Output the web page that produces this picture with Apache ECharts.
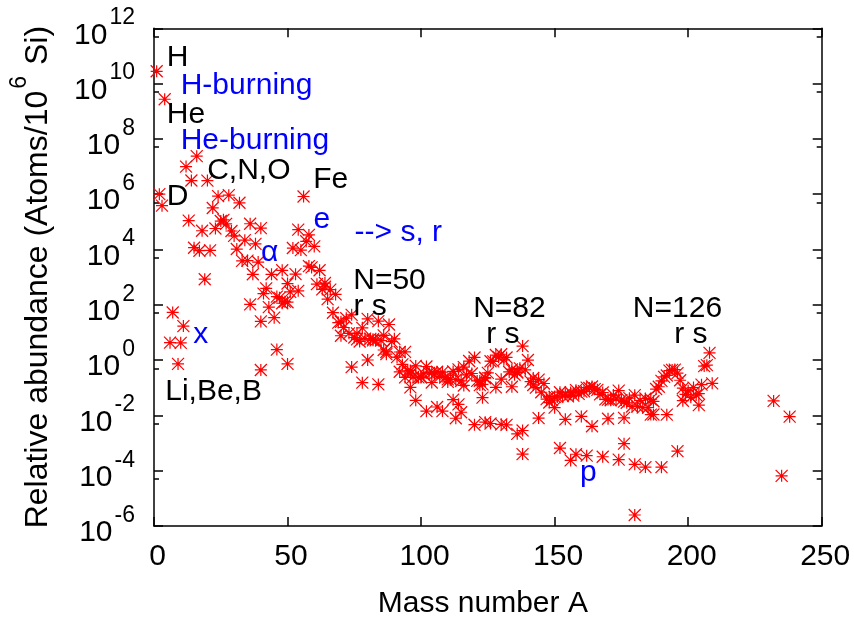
<!DOCTYPE html>
<html><head><meta charset="utf-8">
<script src="https://cdn.jsdelivr.net/npm/echarts@6/dist/echarts.min.js"></script>
<style>html,body{margin:0;padding:0;background:#fff}#c{width:854px;height:624px}</style>
</head><body><div id="c"></div><script>
// Solar-system isotopic abundances (atoms per 10^6 Si)
// Group 1: H .. Ca
const massLight = [1,2,3,4,6,7,9,10,11,12,13,14,15,16,17,18,19,20,21,22,23,24,25,26,27,28,29,30,31,32,33,34,36,35,37,36,38,40,39,40,41,40,42,43,44,46,48];
const abundLight = [2.79e10,1.0e6,3.86e5,2.72e9,4.28,52.8,0.73,4.22,17.0,9.99e6,1.11e5,3.12e6,1.16e4,2.37e7,9.04e3,4.76e4,843,3.11e6,9.29e3,3.18e5,5.74e4,8.48e5,1.07e5,1.18e5,8.49e4,9.22e5,4.67e4,3.10e4,1.04e4,4.89e5,3.86e3,2.17e4,103,3.97e3,1.27e3,8.52e4,1.60e4,25,3.52e3,0.44,254,5.92e4,395,82.5,1.27e3,2.4,114];
// Group 2: Sc .. Mo
const massMid = [45,46,47,48,49,50,50,51,50,52,53,54,55,54,56,57,58,59,58,60,61,62,64,63,65,64,66,67,68,70,69,71,70,72,73,74,76,75,74,76,77,78,80,82,79,81,78,80,82,83,84,86,85,87,84,86,87,88,89,90,91,92,94,96,93,92,94,95,96,97,98,100];
const abundMid = [34.2,198,179,1.77e3,130,124,0.73,292,587,1.13e4,1.28e3,319,9.55e3,5.22e4,8.25e5,1.98e4,2.52e3,2.25e3,3.37e4,1.29e4,557,1.77e3,449,361,161,612,352,51.7,237,7.6,22.7,15.1,24.4,32.6,9.3,43.4,9.3,6.56,0.56,5.65,4.72,14.7,30.9,5.71,5.98,5.82,0.153,1.01,5.2,5.17,25.6,7.8,5.12,1.97,0.132,2.32,1.64,19.4,4.64,5.87,1.28,1.96,1.98,0.32,0.698,0.378,0.236,0.406,0.425,0.244,0.615,0.246];
// Group 3: Ru .. Nd
const massHeavy = [96,98,99,100,101,102,104,103,102,104,105,106,108,110,107,109,106,108,110,111,112,113,114,116,113,115,112,114,115,116,117,118,119,120,122,124,121,123,120,122,123,124,125,126,128,130,127,124,126,128,129,130,131,132,134,136,133,130,132,134,135,136,137,138,138,139,136,138,140,142,141,142,143,144,145,146,148,150];
const abundHeavy = [0.103,0.035,0.236,0.234,0.316,0.588,0.348,0.344,0.0142,0.155,0.310,0.380,0.368,0.163,0.252,0.234,0.0201,0.0143,0.201,0.206,0.388,0.197,0.463,0.121,0.0079,0.176,0.037,0.0252,0.0130,0.555,0.293,0.925,0.328,1.245,0.177,0.221,0.177,0.132,0.0046,0.125,0.0438,0.232,0.343,0.911,1.524,1.626,0.90,0.0057,0.0051,0.103,1.285,0.204,1.019,1.246,0.459,0.373,0.372,0.00476,0.00453,0.1085,0.296,0.353,0.504,3.22,0.0004,0.4456,0.00216,0.00284,1.005,0.126,0.1669,0.2246,0.1008,0.197,0.0687,0.1423,0.0477,0.0467];
// Group 4: Sm .. U
const massRare = [144,147,148,149,150,152,154,151,153,152,154,155,156,157,158,160,159,156,158,160,161,162,163,164,165,162,164,166,167,168,170,169,168,170,171,172,173,174,176,175,176,174,176,177,178,179,180,180,181,180,182,183,184,186,185,187,184,186,187,188,189,190,192,191,193,190,192,194,195,196,198,197,196,198,199,200,201,202,204,203,205,204,206,207,208,209,232,235,238];
const abundRare = [0.0080,0.0387,0.0292,0.0356,0.0191,0.0689,0.0586,0.0465,0.0508,0.00066,0.0072,0.0488,0.0676,0.0516,0.082,0.0721,0.0603,0.000236,0.000394,0.00922,0.0745,0.1005,0.0982,0.111,0.0889,0.00035,0.00404,0.0843,0.0576,0.0672,0.0374,0.0378,0.00032,0.00756,0.0354,0.0543,0.0399,0.0788,0.0315,0.0357,0.00095,0.00025,0.0081,0.0286,0.042,0.021,0.054,2.5e-6,0.0207,0.00017,0.035,0.019,0.0408,0.038,0.0193,0.0324,0.000135,0.0107,0.0108,0.0898,0.1087,0.178,0.277,0.2466,0.414,0.000134,0.0106,0.441,0.453,0.339,0.0965,0.187,0.00051,0.034,0.0575,0.0785,0.0449,0.1015,0.0234,0.0543,0.1297,0.0611,0.607,0.656,1.826,0.144,0.0335,6.5e-5,0.0090];

// Annotations (placed in data coordinates)
const labelText = ['H','H-burning','He','He-burning','C,N,O','Fe','D','e','--> s, r','\u03b1','N=50','r s','N=82','r s','N=126','r s','x','Li,Be,B','p'];
const labelA = [4.8,10,4.8,10,19.9,59.6,4.75,59.7,75.1,40.1,74.6,74.7,119.5,124.4,179.3,194.8,14.7,4.2,159.5];
const labelValue = [8.5e10,8.5e9,7.7e8,8.5e7,6.8e6,3.2e6,8.1e5,1.23e5,4.0e4,7.7e3,750,83,72,8.0,72,8.0,8.0,0.072,8.5e-5];
const labelBlue = [false,true,false,true,false,false,false,true,true,true,false,false,false,false,false,false,true,false,true];

const xTicks = {min: 0, max: 250, interval: 50};
const yRange = {min: 1e-6, max: 1e12};

const FONT = 'Liberation Sans';
const points = [];
[[massLight,abundLight],[massMid,abundMid],[massHeavy,abundHeavy],[massRare,abundRare]].forEach(([m,a]) => {
  m.forEach((A,i) => points.push([A, a[i]]));
});
const annData = labelText.map((t,i) => ({
  value: [labelA[i], labelValue[i]],
  label: {formatter: t, color: labelBlue[i] ? '#0000ff' : '#000000'}
}));

const axisLineStyle = {color: '#000', width: 1.5};
function expLabel(v) {
  const e = Math.round(Math.log10(v));
  return '{b|10}{s|' + e + '}';
}
const yRich = {
  b: {fontSize: 30, fontFamily: FONT, color: '#000', lineHeight: 44, verticalAlign: 'bottom'},
  s: {fontSize: 23, fontFamily: FONT, color: '#000', lineHeight: 23, verticalAlign: 'top', padding: [0,0,0,2]}
};

const chart = echarts.init(document.getElementById('c'), null, {renderer: 'canvas'});
chart.setOption({
  animation: false,
  backgroundColor: '#fff',
  textStyle: {fontFamily: FONT},
  grid: {left: 153.3, right: 32.3, top: 28.3, bottom: 93, containLabel: false},
  xAxis: [{
    type: 'value', position: 'bottom', min: xTicks.min, max: xTicks.max, interval: xTicks.interval,
    name: 'Mass number A', nameLocation: 'middle', nameGap: 63,
    nameTextStyle: {fontSize: 30, color: '#000', fontFamily: FONT, lineHeight: 30, padding: [0,10,0,0]},
    axisLine: {show: true, onZero: false, lineStyle: axisLineStyle},
    axisTick: {show: true, inside: true, length: 9, lineStyle: axisLineStyle},
    axisLabel: {fontSize: 30, color: '#000', fontFamily: FONT, margin: 16, lineHeight: 30, padding: [0,0,0,7]},
    splitLine: {show: false}
  },{
    type: 'value', position: 'top', min: xTicks.min, max: xTicks.max, interval: xTicks.interval,
    axisLine: {show: true, onZero: false, lineStyle: axisLineStyle},
    axisTick: {show: true, inside: true, length: 9, lineStyle: axisLineStyle},
    axisLabel: {show: false}, splitLine: {show: false}
  }],
  yAxis: [{
    type: 'log', logBase: 10, position: 'left', min: yRange.min, max: yRange.max, interval: 2,
    name: '{a|Relative abundance (Atoms/10}{s|6}{a| Si)}', nameLocation: 'middle', nameRotate: 90, nameGap: 100,
    nameTextStyle: {rich: {
      a: {fontSize: 32, fontFamily: FONT, color: '#000', lineHeight: 46, verticalAlign: 'bottom'},
      s: {fontSize: 23, fontFamily: FONT, color: '#000', lineHeight: 23, verticalAlign: 'top', padding: [0,2,0,2]}
    }},
    axisLine: {show: true, onZero: false, lineStyle: axisLineStyle},
    axisTick: {show: true, inside: true, length: 9, lineStyle: axisLineStyle},
    minorTick: {show: true, splitNumber: 2, length: 5, lineStyle: axisLineStyle},
    axisLabel: {margin: 19, formatter: expLabel, rich: yRich},
    splitLine: {show: false}, minorSplitLine: {show: false}
  },{
    type: 'log', logBase: 10, position: 'right', min: yRange.min, max: yRange.max, interval: 2,
    axisLine: {show: true, onZero: false, lineStyle: axisLineStyle},
    axisTick: {show: true, inside: true, length: 9, lineStyle: axisLineStyle},
    minorTick: {show: true, splitNumber: 2, length: 5, lineStyle: axisLineStyle},
    axisLabel: {show: false}, splitLine: {show: false}, minorSplitLine: {show: false}
  }],
  series: [{
    type: 'scatter', xAxisIndex: 0, yAxisIndex: 0,
    symbol: 'path://M0,-1L0,1M-1,0L1,0M-1,-1L1,1M-1,1L1,-1',
    symbolSize: 12,
    itemStyle: {color: '#ff0000', borderColor: '#ff0000', borderWidth: 1.2, opacity: 1},
    emphasis: {disabled: true},
    data: points, silent: true, z: 2
  },{
    type: 'scatter', xAxisIndex: 0, yAxisIndex: 0,
    symbol: 'circle', symbolSize: 0, silent: true, z: 3,
    itemStyle: {opacity: 1},
    emphasis: {disabled: true},
    label: {show: true, position: 'right', distance: 0, fontSize: 30, fontFamily: FONT, lineHeight: 30, opacity: 1},
    data: annData
  }]
});
</script></body></html>
